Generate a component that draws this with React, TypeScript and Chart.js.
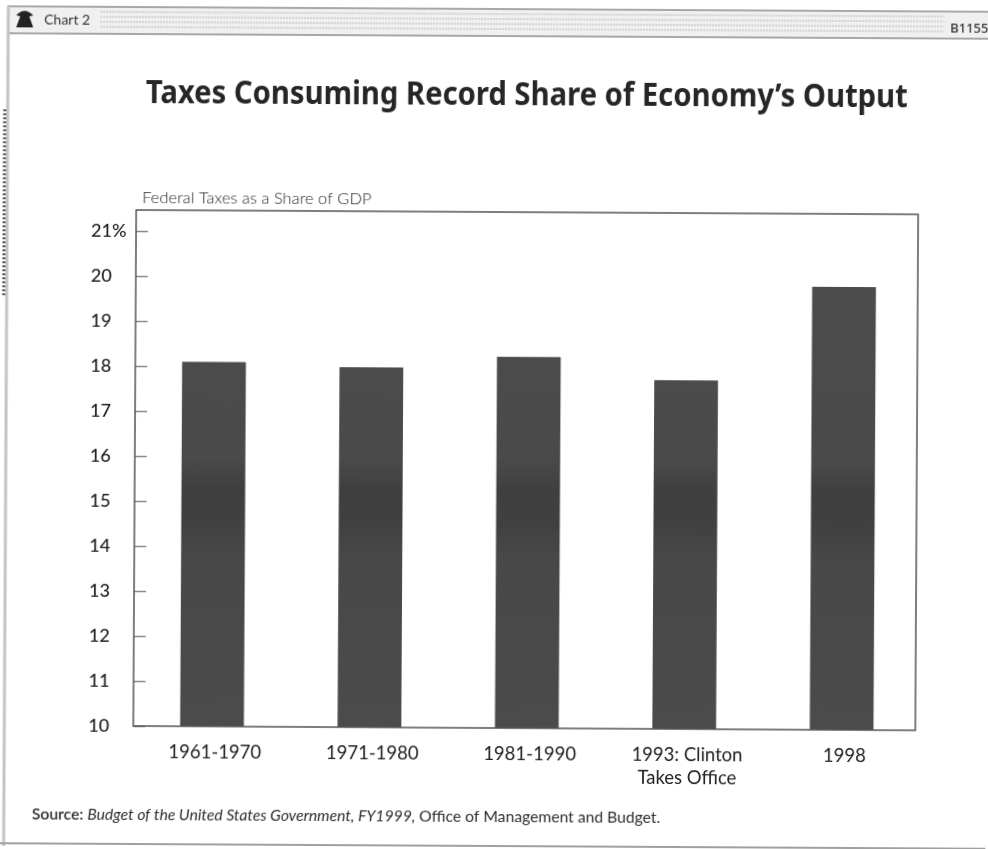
import { useEffect, useRef } from "react";
import { Chart, registerables, type Plugin } from "chart.js";

Chart.register(...registerables);

const periods: (string | string[])[] = ["1961-1970", "1971-1980", "1981-1990", ["1993: Clinton", "Takes Office"], "1998"];
const taxShare = [18.1, 18.0, 18.25, 17.75, 19.85];
const headerLeft = "Chart 2";
const headerRight = "B1155";
const chartTitle = "Taxes Consuming Record Share of Economy’s Output";
const axisCaption = "Federal Taxes as a Share of GDP";
const sourceParts = [
  { text: "Source: ", font: "600 15.7px Lato" },
  { text: "Budget of the United States Government, FY1999, ", font: "italic 400 15.7px Lato" },
  { text: "Office of Management and Budget.", font: "400 15.7px Lato" },
];

// Page furniture around the plot: banner, frame, headline, caption and source line.
const pageFurniture: Plugin<"bar"> = {
  id: "pageFurniture",
  beforeDraw(chart) {
    const c = chart.ctx;
    c.save();
    c.fillStyle = "#ffffff";
    c.fillRect(0, 0, 988, 849);
    c.fillStyle = "#f0f0f0";
    c.fillRect(5, 9, 990, 28);
    c.strokeStyle = "#8f8f8f";
    c.lineWidth = 1.5;
    c.beginPath();
    c.moveTo(5, 9);
    c.lineTo(995, 9);
    c.moveTo(5, 36);
    c.lineTo(995, 36);
    c.stroke();
    c.strokeStyle = "#c4c4c4";
    c.lineWidth = 3;
    c.beginPath();
    c.moveTo(6, 9);
    c.lineTo(6, 852);
    c.stroke();
    // darker stippling down the left edge
    c.strokeStyle = "#555555";
    c.lineWidth = 3;
    c.setLineDash([2, 2]);
    c.beginPath();
    c.moveTo(3, 112);
    c.lineTo(3, 300);
    c.stroke();
    c.setLineDash([]);
    c.strokeStyle = "#a0a0a0";
    c.lineWidth = 2;
    c.beginPath();
    c.moveTo(0, 846);
    c.lineTo(995, 846);
    c.stroke();
    // stippled rows of the banner
    c.strokeStyle = "#b8b8b8";
    c.lineWidth = 1;
    c.setLineDash([2, 1]);
    for (const y of [14, 19, 24, 29]) {
      c.beginPath();
      c.moveTo(98, y);
      c.lineTo(942, y);
      c.stroke();
    }
    c.setLineDash([]);
    // bell mark
    c.fillStyle = "#222222";
    c.beginPath();
    c.moveTo(14, 18);
    c.quadraticCurveTo(22, 9, 31, 18);
    c.lineTo(27, 19);
    c.lineTo(31, 30);
    c.lineTo(14, 30);
    c.lineTo(18, 19);
    c.closePath();
    c.fill();
    c.textBaseline = "alphabetic";
    c.textAlign = "left";
    c.fillStyle = "#333333";
    c.font = "400 14px Lato";
    c.fillText(headerLeft, 42, 27);
    c.font = "500 13px 'Noto Sans'";
    c.fillText(headerRight, 948, 30);

    c.fillStyle = "#262626";
    c.font = "700 33px 'Noto Sans'";
    c.fillText(chartTitle, 144, 105, 762);
    c.fillStyle = "#1f1f1f";
    c.font = "300 16.5px Lato";
    c.fillText(axisCaption, 141, 205);

    let x = 34;
    c.fillStyle = "#2e2e2e";
    for (const part of sourceParts) {
      c.font = part.font;
      c.fillText(part.text, x, 822);
      x += c.measureText(part.text).width;
    }
    c.restore();
  },
  afterDraw(chart) {
    // the plot frame stops a little short of the last category band
    const { left, right, top, bottom } = chart.chartArea;
    const c = chart.ctx;
    c.save();
    c.strokeStyle = "#555555";
    c.lineWidth = 1.5;
    c.strokeRect(left, top, right - 5 - left, bottom - top);
    c.restore();
  },
};

export default function App() {
  const ref = useRef<HTMLCanvasElement>(null);
  useEffect(() => {
    document.body.style.margin = "0";
    const canvas = ref.current!;
    const chart = new Chart(canvas, {
      type: "bar",
      data: {
        labels: periods,
        datasets: [
          {
            data: taxShare,
            backgroundColor: (ctx) => {
              const g = ctx.chart.ctx.createLinearGradient(0, 280, 0, 728);
              g.addColorStop(0, "#4c4c4c");
              g.addColorStop(0.4, "#4a4a4a");
              g.addColorStop(0.47, "#3f3f3f");
              g.addColorStop(0.54, "#404040");
              g.addColorStop(0.62, "#484848");
              g.addColorStop(1, "#4b4b4b");
              return g;
            },
            barPercentage: 0.405,
            categoryPercentage: 1,
          },
        ],
      },
      options: {
        responsive: false,
        animation: false,
        layout: { padding: { top: 212, right: 66, bottom: 0, left: 90 } },
        plugins: { legend: { display: false }, title: { display: false }, tooltip: { enabled: false } },
        scales: {
          x: {
            grid: { display: false },
            border: { display: false },
            ticks: {
              color: "#222222",
              font: { family: "Lato", size: 18.5, lineHeight: 1.25 },
              padding: 6,
              labelOffset: 3,
              maxRotation: 0,
              autoSkip: false,
            },
            afterFit: (s) => {
              s.height = 121;
            },
          },
          y: {
            min: 10,
            max: 21.47,
            afterBuildTicks: (s) => {
              s.ticks = [10, 11, 12, 13, 14, 15, 16, 17, 18, 19, 20, 21].map((value) => ({ value }));
            },
            grid: { drawOnChartArea: false, tickLength: -12, tickColor: "#8a8a8a", tickWidth: 1.5 },
            border: { display: false },
            ticks: {
              color: "#1c1c1c",
              font: { family: "Lato", size: 18, weight: 500 },
              padding: 14,
              crossAlign: "far",
              callback: (v) => (v === 21 ? "21%" : String(v)),
            },
            afterFit: (s) => {
              s.width = 45;
            },
          },
        },
      },
      plugins: [pageFurniture],
    });
    return () => chart.destroy();
  }, []);
  // The printed page sits slightly askew, turned a third of a degree clockwise.
  return (
    <div style={{ width: 988, height: 849, overflow: "hidden", background: "#fff" }}>
      <canvas ref={ref} width={988} height={849} style={{ display: "block", transform: "rotate(0.32deg)" }} />
    </div>
  );
}
